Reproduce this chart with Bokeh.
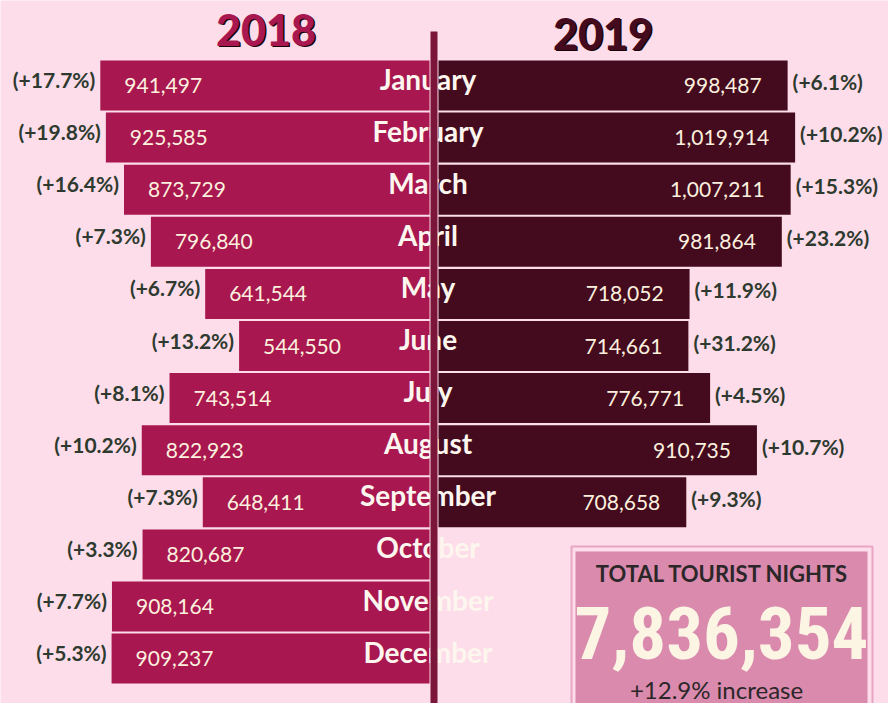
from bokeh.plotting import figure
from bokeh.models import Range1d, ColumnDataSource
from bokeh.core.properties import value
from bokeh.embed import file_html
from bokeh.resources import INLINE

# ---------------- data ----------------
months = ["January", "February", "March", "April", "May", "June", "July",
          "August", "September", "October", "November", "December"]
nights_2018 = [941497, 925585, 873729, 796840, 641544, 544550, 743514,
               822923, 648411, 820687, 908164, 909237]
nights_2019 = [998487, 1019914, 1007211, 981864, 718052, 714661, 776771,
               910735, 708658]
change_2018 = [17.7, 19.8, 16.4, 7.3, 6.7, 13.2, 8.1, 10.2, 7.3, 3.3, 7.7, 5.3]
change_2019 = [6.1, 10.2, 15.3, 23.2, 11.9, 31.2, 4.5, 10.7, 9.3]
years = ["2018", "2019"]
total_title = "TOTAL TOURIST NIGHTS"
total_nights = 7836354
total_change = 12.9

# ---------------- style ----------------
BG = "#fddde9"
C18 = "#a8174f"
C19 = "#440b1e"
DIV = "#7b1539"
PCT = "#2e3a2f"
VAL = "#fcf0de"
MON = "#fdf6ef"
BOX = "#d98aad"
BOXLINE = "#e9a6c4"

W, H = 888, 703
UNIT = 2860.0          # nights per pixel
CENTER = 433.5         # pixel position of the divider centre
GAP = 4.5 * UNIT
ROW0, PITCH = 85.0, 52.1

p = figure(width=W, height=H, output_backend="svg", toolbar_location=None,
           tools="", x_axis_location=None, y_axis_location=None,
           x_range=Range1d(-CENTER * UNIT, (W - CENTER) * UNIT),
           y_range=Range1d((H - ROW0) / PITCH, -ROW0 / PITCH),
           min_border=0, background_fill_color=BG, border_fill_color=BG,
           outline_line_color=None)
p.grid.visible = False
p.extra_x_ranges = {"px": Range1d(0, W)}
p.extra_y_ranges = {"px": Range1d(H, 0)}

src18 = ColumnDataSource(dict(
    y=list(range(len(nights_2018))),
    month=months,
    left=[-v - GAP for v in nights_2018],
    right=[-GAP] * len(nights_2018),
    label=[f"{v:,}" for v in nights_2018],
    pct=[f"(+{c:.1f}%)" for c in change_2018],
))
src19 = ColumnDataSource(dict(
    y=list(range(len(nights_2019))),
    left=[GAP] * len(nights_2019),
    right=[v + GAP for v in nights_2019],
    label=[f"{v:,}" for v in nights_2019],
    pct=[f"(+{c:.1f}%)" for c in change_2019],
))

BAR_H = 50 / PITCH
p.hbar(y="y", left="left", right="right", height=BAR_H, source=src18,
       fill_color=C18, line_color=None)
p.hbar(y="y", left="left", right="right", height=BAR_H, source=src19,
       fill_color=C19, line_color=None)

LATO = value("Lato")
p.text(x="left", y="y", text="label", source=src18, x_offset=24, y_offset=0,
       text_align="left", text_baseline="middle", text_font=LATO,
       text_font_size="21px", text_color=VAL)
p.text(x="right", y="y", text="label", source=src19, x_offset=-26, y_offset=0,
       text_align="right", text_baseline="middle", text_font=LATO,
       text_font_size="21px", text_color=VAL)

p.text(x=0, y="y", text="month", source=src18, x_offset=-6, y_offset=-7,
       text_align="center", text_baseline="middle", text_font=LATO,
       text_font_style="bold", text_font_size="28px", text_color=MON)

# divider
p.quad(left=[430], right=[437], top=[31], bottom=[H + 5],
       x_range_name="px", y_range_name="px", fill_color=DIV, line_color=None)

p.text(x="left", y="y", text="pct", source=src18, x_offset=-5, y_offset=-6,
       text_align="right", text_baseline="middle", text_font=LATO,
       text_font_style="bold", text_font_size="21px", text_color=PCT)
p.text(x="right", y="y", text="pct", source=src19, x_offset=5, y_offset=-4,
       text_align="left", text_baseline="middle", text_font=LATO,
       text_font_style="bold", text_font_size="21px", text_color=PCT)

# year titles with shadow
BLACK = value("Lato Black, Lato")
for xx, yy, t, col in [(265.5, 29, years[0], C18), (602.5, 33, years[1], C19)]:
    p.text(x=[xx + 1.5], y=[yy + 1.5], text=[t], x_range_name="px", y_range_name="px",
           text_align="center", text_baseline="middle", text_font=BLACK,
           text_font_style="bold", text_font_size="43px", text_color="#160409")
    p.text(x=[xx], y=[yy], text=[t], x_range_name="px", y_range_name="px",
           text_align="center", text_baseline="middle", text_font=BLACK,
           text_font_style="bold", text_font_size="43px", text_color=col)

# total box
p.quad(left=[571], right=[872], top=[546], bottom=[H + 10],
       x_range_name="px", y_range_name="px", fill_color=None,
       line_color=BOXLINE, line_width=2)
p.quad(left=[575], right=[867], top=[551], bottom=[H + 10],
       x_range_name="px", y_range_name="px", fill_color=BOX, line_color=None)
p.text(x=[722], y=[573], text=[total_title], x_range_name="px", y_range_name="px",
       text_align="center", text_baseline="middle", text_font=LATO,
       text_font_style="bold", text_font_size="22px", text_color="#2b2728")
p.text(x=[721], y=[632], text=[f"{total_nights:,}"], x_range_name="px",
       y_range_name="px", text_align="center", text_baseline="middle",
       text_font=value("Roboto Condensed, DejaVu Sans Condensed, Liberation Sans Narrow, Roboto"),
       text_font_style="bold", text_font_size="73px", text_color="#fdf5e4")
p.text(x=[716], y=[689], text=[f"+{total_change:.1f}% increase"], x_range_name="px",
       y_range_name="px", text_align="center", text_baseline="middle",
       text_font=LATO, text_font_size="24px", text_color="#2b2728")

html = file_html(p, INLINE)
html = html.replace("<body>", f'<body style="background-color:{BG};">', 1)
open("out.html", "w").write(html)
